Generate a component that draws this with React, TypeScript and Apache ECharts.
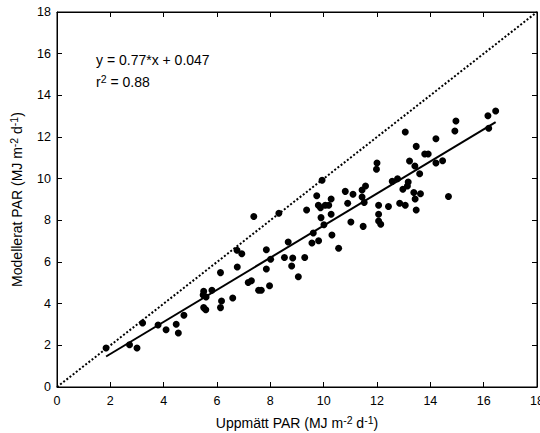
import React, { useEffect, useRef } from "react";
import * as echarts from "echarts";

// Measured PAR (x) and modelled PAR (y), MJ m-2 d-1
const measured: number[] = [
  1.84, 2.72, 3.0, 3.21, 3.79, 4.09, 4.47, 4.55, 4.76, 5.5, 5.48, 5.59, 5.81, 5.5, 5.58,
  6.13, 6.17, 6.13, 6.59, 6.75, 6.93, 6.76, 7.38, 7.17, 7.29, 7.56, 7.66, 7.85, 7.85, 8.01,
  7.97, 8.32, 8.53, 8.67, 8.84, 8.8, 9.05, 9.29, 9.36, 9.56, 9.61, 9.74, 9.8, 9.88, 9.81,
  9.9, 10.01, 10.06, 10.19, 10.28, 10.28, 10.31, 10.56, 10.81, 10.9, 11.02, 11.1, 11.44, 11.44, 11.57,
  11.52, 11.48, 12.06, 12.06, 12.06, 12.14, 12.43, 12.57, 12.85, 12.97, 13.06, 13.14, 13.17, 13.38, 13.43,
  13.47, 13.63, 14.68, 9.94, 11.98, 12.0, 12.77, 13.06, 13.22, 13.42, 13.47, 13.6, 13.79, 13.92,
  14.21, 14.21, 14.46, 14.92, 14.96, 16.16, 16.19, 16.45,
];
const modelled: number[] = [
  1.87, 2.03, 1.87, 3.07, 2.98, 2.75, 3.01, 2.59, 3.44, 4.59, 4.42, 4.32, 4.64, 3.81, 3.71,
  5.49, 4.13, 3.81, 4.27, 6.56, 6.4, 5.76, 8.18, 5.02, 5.1, 4.64, 4.64, 6.59, 5.66, 6.13,
  4.86, 8.34, 6.22, 6.96, 6.19, 5.81, 5.29, 6.22, 8.5, 6.91, 7.39, 9.18, 8.72, 8.61, 7.02,
  8.13, 7.79, 8.72, 8.72, 9.02, 8.29, 7.3, 6.66, 9.39, 8.82, 7.92, 9.25, 9.46, 9.12, 9.65,
  8.86, 7.71, 8.72, 8.29, 7.97, 7.81, 8.66, 9.87, 8.82, 9.49, 8.72, 9.65, 9.84, 9.34, 9.02,
  8.5, 9.28, 9.14, 9.92, 10.45, 10.75, 10.0, 12.24, 10.85, 10.61, 11.55, 10.24, 11.18, 11.18,
  11.92, 10.75, 10.86, 12.29, 12.77, 13.02, 12.42, 13.25,
];

const slope = 0.77;
const intercept = 0.047;
const rSquared = 0.88;
const axisTicks: number[] = [0, 2, 4, 6, 8, 10, 12, 14, 16, 18];

const FONT = "'Liberation Sans', Arial, Helvetica, sans-serif";

export default function App() {
  const ref = useRef<HTMLDivElement>(null);

  useEffect(() => {
    if (!ref.current) return;
    const chart = echarts.init(ref.current, undefined, { renderer: "svg" });
    const pts = measured.map((x, i) => [x, modelled[i]]);
    const xMin = Math.min(...measured);
    const xMax = Math.max(...measured);
    const fitLine = [
      [xMin, slope * xMin + intercept],
      [xMax, slope * xMax + intercept],
    ];
    const lo = axisTicks[0];
    const hi = axisTicks[axisTicks.length - 1];
    const step = axisTicks[1] - axisTicks[0];

    const axisCommon = {
      type: "value" as const,
      min: lo,
      max: hi,
      interval: step,
      axisLine: { show: true, onZero: false, lineStyle: { color: "#000", width: 1 } },
      axisTick: { show: true, inside: true, length: 5, lineStyle: { color: "#000" } },
      splitLine: { show: false },
    };
    const labelStyle = { color: "#000", fontSize: 12.5, fontFamily: FONT };
    const rich = {
      sup: { fontSize: 10.5, fontFamily: FONT, color: "#000", verticalAlign: "top" as const, padding: [0, 0, 7, 0] },
    };

    chart.setOption({
      animation: false,
      backgroundColor: "#fff",
      grid: {
        left: 57,
        right: 3,
        top: 12,
        bottom: 46,
        outerBoundsMode: "none",
        containLabel: false,
        show: true,
        borderColor: "#000",
        borderWidth: 1,
      },
      xAxis: [
        {
          ...axisCommon,
          position: "bottom",
          axisLabel: { ...labelStyle, margin: 7 },
          name: "Uppmätt PAR (MJ m{sup|-2} d{sup|-1})",
          nameLocation: "middle",
          nameGap: 27,
          nameTextStyle: { color: "#000", fontSize: 14, fontFamily: FONT, rich },
        },
        { ...axisCommon, position: "top", axisLabel: { show: false } },
      ],
      yAxis: [
        {
          ...axisCommon,
          position: "left",
          axisLabel: { ...labelStyle, margin: 6 },
          name: "Modellerat PAR (MJ m{sup|-2} d{sup|-1})",
          nameLocation: "middle",
          nameGap: 31,
          nameRotate: 90,
          nameTextStyle: { color: "#000", fontSize: 14, fontFamily: FONT, rich },
        },
        { ...axisCommon, position: "right", axisLabel: { show: false } },
      ],
      graphic: [
        {
          type: "text",
          left: 96,
          top: 53,
          style: { text: `y = ${slope}*x + ${intercept}`, fill: "#000", font: `14px ${FONT}` },
        },
        {
          type: "text",
          left: 96,
          top: 73,
          style: {
            text: `r{s|2} = ${rSquared}`,
            fill: "#000",
            font: `14px ${FONT}`,
            rich: { s: { fontSize: 10.5, fontFamily: FONT, fill: "#000", verticalAlign: "top", padding: [0, 0, 7, 0] } },
          },
        },
      ],
      series: [
        {
          type: "line",
          data: [
            [lo, lo],
            [hi, hi],
          ],
          showSymbol: false,
          symbol: "none",
          lineStyle: { color: "#000", width: 2, type: [2, 2] },
          silent: true,
          z: 1,
        },
        {
          type: "line",
          data: fitLine,
          showSymbol: false,
          symbol: "none",
          lineStyle: { color: "#000", width: 2 },
          silent: true,
          z: 2,
        },
        {
          type: "scatter",
          data: pts,
          symbol: "circle",
          symbolSize: 7,
          itemStyle: { color: "#000", opacity: 1 },
          z: 3,
        },
      ],
    });
    return () => chart.dispose();
  }, []);

  return <div ref={ref} style={{ width: 540, height: 433, position: "absolute", left: 0, top: 0 }} />;
}
